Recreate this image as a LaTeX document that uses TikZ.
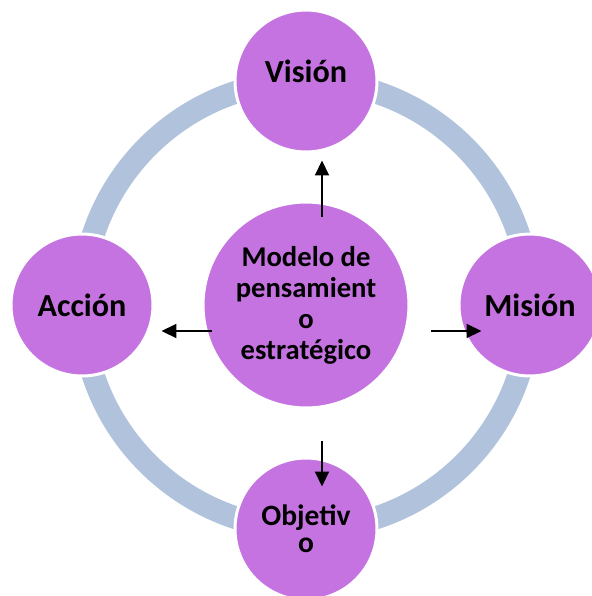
\documentclass[tikz,border=0pt]{standalone}
\usepackage{fontspec}
\setmainfont{Carlito}
\usetikzlibrary{arrows.meta}
\definecolor{orbpurple}{HTML}{C673E2}
\definecolor{ringblue}{HTML}{B0C2DC}

\begin{document}
\begin{tikzpicture}[x=0.02cm, y=-0.02cm, >={Triangle[length=0.3cm,width=0.28cm]}, font=\bfseries]
  \tikzset{orb/.style={circle, fill=orbpurple, draw=white, line width=1.7pt, inner sep=0pt, minimum size=2.84cm, align=center, font=\fontsize{18.3}{20}\selectfont\bfseries},
    hub/.style={orb, minimum size=4.12cm, font=\fontsize{16.3}{17.6}\selectfont\bfseries},
    arr/.style={->, line width=1.1pt}}
  \clip (0,0) rectangle (592,596);
  \coordinate (mid) at (306,305);
  \draw[ringblue, line width=13pt] (mid) circle[radius=224];
  \node[orb] (vision) at (306,81) {\raisebox{0.2cm}[\height][\depth]{Visión}};
  \node[orb] (accion) at (82,305) {Acción};
  \node[orb] (mision) at (530,305) {Misión};
  \node[orb, font=\fontsize{16.8}{15.5}\selectfont\bfseries] (objetivo) at (306,529) {Objetiv\\o};
  \node[hub] (modelo) at (mid) {Modelo de\\pensamient\\o\\estratégico};
  \draw[arr] ([shift={(16,16)}]modelo.north) -- ([shift={(16,7)}]vision.south);
  \draw[arr] ([shift={(10,26)}]modelo.west) -- ([shift={(7,26)}]accion.east);
  \draw[arr] ([shift={(21,26)}]modelo.east) -- ([shift={(24,26)}]mision.west);
  \draw[arr] ([shift={(16,32)}]modelo.south) -- ([shift={(16,30)}]objetivo.north);
\end{tikzpicture}
\end{document}
